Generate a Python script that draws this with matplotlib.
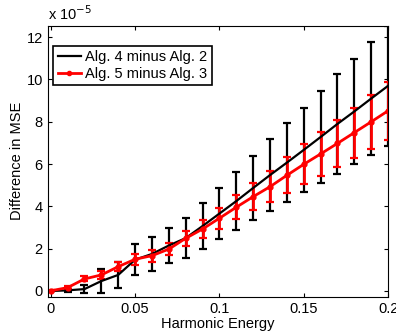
import numpy as np
import matplotlib
matplotlib.use("Agg")
import matplotlib.pyplot as plt
from matplotlib.lines import Line2D

plt.rcParams['font.family'] = ['Liberation Sans', 'DejaVu Sans']

# Harmonic energy levels
energy = [0.00, 0.01, 0.02, 0.03, 0.04, 0.05, 0.06, 0.07, 0.08, 0.09, 0.10,
          0.11, 0.12, 0.13, 0.14, 0.15, 0.16, 0.17, 0.18, 0.19, 0.20]

# Alg. 4 minus Alg. 2 (units of 1e-5)
diff42 = [0.0, 0.03, 0.09, 0.47, 0.76, 1.48, 1.75, 2.15, 2.50, 3.07, 3.66,
          4.25, 4.87, 5.48, 6.07, 6.67, 7.28, 7.90, 8.49, 9.10, 9.70]
err42 = [0.0, 0.08, 0.2, 0.57, 0.6, 0.73, 0.79, 0.84, 0.93, 1.08, 1.21,
         1.37, 1.51, 1.70, 1.85, 2.00, 2.18, 2.35, 2.50, 2.67, 2.85]

# Alg. 5 minus Alg. 3 (units of 1e-5)
diff53 = [0.01, 0.16, 0.57, 0.76, 1.15, 1.50, 1.67, 1.98, 2.49, 2.93, 3.44,
          3.96, 4.46, 4.93, 5.47, 5.99, 6.48, 6.98, 7.49, 8.00, 8.52]
err53 = [0.02, 0.08, 0.12, 0.17, 0.22, 0.25, 0.28, 0.30, 0.37, 0.43, 0.50,
         0.57, 0.65, 0.73, 0.86, 0.94, 1.02, 1.10, 1.18, 1.28, 1.36]

labels = ['Alg. 4 minus Alg. 2', 'Alg. 5 minus Alg. 3']

fig = plt.figure(figsize=(3.96, 3.33), dpi=100)
ax = fig.add_axes([0.1205, 0.109, 0.8595, 0.813])

ax.errorbar(energy, diff42, yerr=err42, color='k', lw=1.6, elinewidth=1.6,
            capsize=3, capthick=1.6)
ax.errorbar(energy, diff53, yerr=err53, color='r', lw=2, elinewidth=2,
            capsize=3, capthick=1.6, marker='.', markersize=7)

ax.set_xlim(-0.0018, 0.2)
ax.set_ylim(-0.27, 12.53)
ax.set_xticks([0, 0.05, 0.1, 0.15, 0.2])
ax.set_xticklabels(['0', '0.05', '0.1', '0.15', '0.2'])
ax.set_yticks([0, 2, 4, 6, 8, 10, 12])
ax.tick_params(direction='in', top=True, right=True, labelsize=10.5, length=3)
for s in ax.spines.values():
    s.set_linewidth(0.8)

ax.set_xlabel('Harmonic Energy', fontsize=10.5, labelpad=1)
ax.set_ylabel('Difference in MSE', fontsize=10.5, labelpad=2)
ax.text(0.0, 1.012, r'x 10$^{-5}$', transform=ax.transAxes, fontsize=10.5,
        ha='left', va='bottom')

handles = [Line2D([], [], color='k', lw=1.6),
           Line2D([], [], color='r', lw=2, marker='.', markersize=6)]
leg = ax.legend(handles, labels, loc='upper left', fontsize=10.5,
                handlelength=1.6, fancybox=False, framealpha=1, edgecolor='k',
                borderpad=0.3, labelspacing=0.2, handletextpad=0.3,
                borderaxespad=0, bbox_to_anchor=(0.016, 0.927))
leg.get_frame().set_linewidth(1.2)

fig.savefig('out.png', dpi=100)
